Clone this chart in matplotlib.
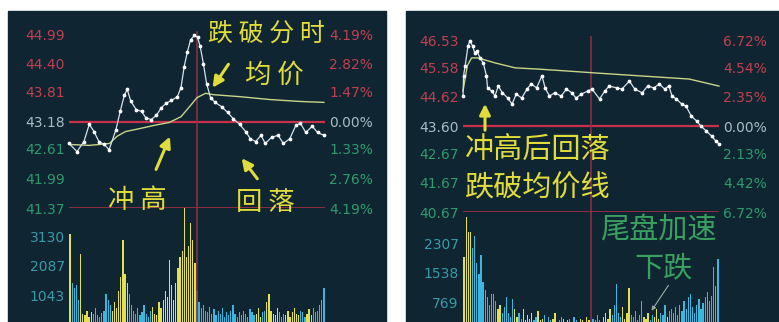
import numpy as np
import matplotlib
matplotlib.use("Agg")
import matplotlib.pyplot as plt
from matplotlib.patches import Rectangle, FancyArrowPatch

plt.rcParams['font.family'] = ['DejaVu Sans']
CJK = ['Noto Sans CJK SC', 'DejaVu Sans']

# ---- left chart: spike then break below the average price ----
l_t = [0, 7.5, 14, 19, 23.5, 28, 33, 37.6, 44, 48, 52, 54.6, 58, 63, 68, 72, 77, 82, 86.6, 91,
       96, 101.6, 105, 108, 111, 114, 117.6, 120.5, 123, 126, 129, 132.7, 137, 143, 148.7, 154,
       160, 165.6, 170, 175, 180, 184, 190, 196, 201, 207, 212.7, 217, 222, 228, 233, 239]
l_price = [42.72, 42.55, 42.76, 43.12, 42.97, 42.76, 42.70, 42.59, 43.01, 43.39, 43.74, 43.85,
           43.60, 43.43, 43.39, 43.26, 43.22, 43.31, 43.47, 43.56, 43.62, 43.70, 43.89, 44.33,
           44.64, 44.89, 44.98, 44.94, 44.75, 44.39, 43.97, 43.68, 43.58, 43.49, 43.37, 43.24,
           43.12, 42.97, 42.82, 42.76, 42.89, 42.72, 42.85, 42.89, 42.72, 42.82, 43.10, 43.14,
           42.95, 43.08, 42.95, 42.89]
l_avg_t = [0, 19, 38, 45, 53, 66, 80, 94, 105, 113, 120, 128, 136, 160, 188, 216, 239]
l_avg = [42.70, 42.68, 42.72, 42.87, 42.97, 43.03, 43.10, 43.16, 43.28, 43.49, 43.68, 43.77,
         43.74, 43.70, 43.64, 43.60, 43.58]
l_levels = [41.37, 41.99, 42.61, 43.18, 43.81, 44.40, 44.99]
l_pct = ["4.19%", "2.76%", "1.33%", "0.00%", "1.47%", "2.82%", "4.19%"]
l_vol_ticks = [1043, 2087, 3130]
l_vol = [3200, 1500, 1300, 1400, 900, 2500, 400, 350, 500, 300,
         450, 380, 600, 350, 300, 420, 500, 1100, 900, 700,
         500, 800, 600, 1200, 1700, 3000, 1800, 1500, 1100, 700,
         500, 400, 600, 350, 450, 700, 400, 300, 500, 650,
         400, 350, 800, 600, 900, 1200, 1000, 2300, 1400, 900,
         1500, 2000, 2400, 2600, 4200, 2400, 2800, 3600, 3000, 2200,
         1200, 800, 600, 700, 500, 450, 650, 400, 550, 350,
         500, 400, 600, 300, 450, 350, 500, 700, 400, 300,
         450, 350, 500, 400, 300, 550, 450, 350, 400, 600,
         300, 450, 500, 800, 1100, 500, 400, 350, 600, 450,
         300, 400, 350, 500, 300, 450, 600, 400, 350, 500,
         450, 300, 400, 550, 350, 600, 450, 500, 700, 900, 1300]

# ---- right chart: high open, fade, then tail-end sell-off ----
r_t = [0, 0.5, 2, 4.7, 6.5, 9, 11, 13, 16, 19, 22, 23, 27, 30, 33, 37, 42, 46, 50, 55, 60, 64,
       69, 74, 77, 81, 86, 92, 97, 102, 106, 111, 117, 121, 128, 133, 137, 144, 149, 156, 161,
       168, 173, 179, 184, 189, 193, 196, 200, 205, 209, 214, 219, 223, 228, 233, 237, 240]
r_price = [44.62, 45.31, 45.65, 46.33, 46.50, 46.33, 46.09, 46.16, 45.92, 45.75, 45.31, 44.90,
           44.79, 44.62, 44.96, 44.73, 44.55, 44.35, 44.69, 44.55, 44.86, 45.03, 44.90, 45.31,
           44.90, 44.62, 44.73, 44.62, 44.86, 44.73, 44.55, 44.69, 44.79, 44.86, 44.52, 44.79,
           44.96, 44.90, 44.86, 45.13, 44.86, 44.73, 44.96, 44.90, 45.03, 44.86, 44.96, 44.62,
           44.52, 44.35, 44.28, 43.94, 43.77, 43.60, 43.43, 43.26, 43.09, 42.99]
r_avg_t = [0, 4, 8, 14, 30, 49, 70, 95, 123, 165, 212, 240]
r_avg = [44.79, 45.65, 45.92, 45.92, 45.75, 45.58, 45.54, 45.48, 45.41, 45.31, 45.20, 44.96]
r_levels = [40.67, 41.67, 42.67, 43.60, 44.62, 45.58, 46.53]
r_pct = ["6.72%", "4.42%", "2.13%", "0.00%", "2.35%", "4.54%", "6.72%"]
r_vol_ticks = [769, 1538, 2307]
r_vol = [1950, 3000, 2600, 2600, 2200, 2500, 1800, 1500, 2000, 1300,
         1100, 900, 700, 1000, 1000, 800, 600, 700, 500, 650,
         900, 500, 400, 850, 600, 400, 500, 350, 600, 300,
         450, 350, 500, 300, 400, 550, 300, 350, 450, 250,
         400, 300, 350, 500, 250, 300, 400, 350, 200, 300,
         350, 250, 400, 300, 200, 350, 300, 250, 400, 300,
         250, 350, 300, 450, 300, 250, 400, 500, 350, 600,
         450, 700, 1250, 500, 400, 650, 350, 500, 1150, 450,
         400, 550, 300, 450, 800, 400, 350, 500, 300, 450,
         400, 600, 350, 500, 450, 700, 400, 550, 600, 500,
         650, 450, 700, 550, 800, 600, 900, 1000, 650, 500,
         700, 850, 600, 750, 900, 1050, 800, 950, 1700, 1200, 1900]

W, H = 779, 322
BG = '#0f2531'
RED = '#c8304c'
UP = '#c04050'
DOWN = '#2f9a6c'
MID = '#a8bcc4'
VOLC = '#3a9aa8'
YEL = '#e0dc3c'
GRN = '#3aa060'


def box(x, y, w, h):
    return [x / W, 1 - (y + h) / H, w / W, h / H]


def fp(x, y):
    return (x / W, 1 - y / H)


fig = plt.figure(figsize=(W / 100, H / 100), dpi=100)
fig.patch.set_facecolor('white')
fig.add_artist(Rectangle(fp(8, 322), 378 / W, 311 / H, transform=fig.transFigure,
                         color=BG, zorder=0))
fig.add_artist(Rectangle(fp(406, 322), 373 / W, 311 / H, transform=fig.transFigure,
                         color=BG, zorder=0))


def panel(x0, ytop, ybot, levels, pct, t, price, avg_t, avg, vol, vol_ticks, vol_zero):
    w = 256
    ax = fig.add_axes(box(x0, ytop, w, ybot - ytop))
    ax.set_facecolor('none')
    ax.set_xlim(0, 240)
    ax.set_ylim(levels[0], levels[-1])
    ax.axhline(levels[3], color=RED, lw=1.6)
    ax.axhline(levels[0], color=RED, lw=1.2, alpha=0.8)
    ax.plot([120, 120], [levels[0], levels[-1] + 0.02 * (levels[-1] - levels[0])],
            color='#8a2e42', lw=1.2, clip_on=False)
    ax.plot(avg_t, avg, color='#c8d488', lw=1.0, clip_on=False)
    ax.plot(t, price, color='#d4e2ee', lw=0.9, marker='o', ms=1.7,
            mfc='white', mec='white', clip_on=False)
    ax.set_yticks(levels)
    ax.set_yticklabels([f"{v:.2f}" for v in levels])
    ax.set_xticks([])
    for i, lab in enumerate(ax.get_yticklabels()):
        lab.set_color(UP if i > 3 else (MID if i == 3 else DOWN))
    ax.tick_params(axis='y', length=0, pad=3, labelsize=10)
    axr = ax.twinx()
    axr.set_ylim(ax.get_ylim())
    axr.set_yticks(levels)
    axr.set_yticklabels(pct)
    for i, lab in enumerate(axr.get_yticklabels()):
        lab.set_color(UP if i > 3 else (MID if i == 3 else DOWN))
    axr.tick_params(axis='y', length=0, pad=3, labelsize=10)
    for a in (ax, axr):
        for s in a.spines.values():
            s.set_visible(False)

    axv = fig.add_axes(box(x0, ybot, w, vol_zero - ybot))
    axv.set_facecolor('none')
    axv.set_xlim(-1, 241)
    scale = vol_ticks[0] / 29.5
    axv.set_ylim(0, scale * (vol_zero - ybot))
    mins = np.arange(len(vol)) * 2
    p = np.interp(mins, t, price)
    prev = np.concatenate([[p[0] - 0.01], p[:-1]])
    cols = ['#e2e050' if a >= b else '#3cb6dc' for a, b in zip(p, prev)]
    axv.bar(mins, vol, width=1.2, color=cols, linewidth=0)
    axv.plot([120, 120], [0, scale * (vol_zero - ybot)], color='#8a2e42', lw=1.2)
    axv.set_yticks(vol_ticks)
    axv.set_yticklabels([str(v) for v in vol_ticks])
    axv.set_xticks([])
    axv.tick_params(axis='y', length=0, pad=3, labelsize=10, labelcolor=VOLC)
    for s in axv.spines.values():
        s.set_visible(False)
    return ax


panel(69, 35, 208, l_levels, l_pct, l_t, l_price, l_avg_t, l_avg, l_vol, l_vol_ticks, 325)
panel(463, 40, 212, r_levels, r_pct, r_t, r_price, r_avg_t, r_avg, r_vol, r_vol_ticks, 332)

# annotations
big = dict(family=CJK, color=YEL, fontsize=19, ha='center', va='center')
fig.text(*fp(266, 35), "跌 破 分 时", **dict(big, fontsize=18))
fig.text(*fp(274, 75), "均 价", **big)
fig.text(*fp(137, 201), "冲 高", **big)
fig.text(*fp(265, 203), "回 落", **big)
fig.text(*fp(538, 150), "冲高后回落", **dict(big, fontsize=21))
fig.text(*fp(538, 188), "跌破均价线", **dict(big, fontsize=21))
fig.text(*fp(658, 230), "尾盘加速", **dict(big, fontsize=21, color=GRN))
fig.text(*fp(664, 268), "下跌", **dict(big, fontsize=21, color=GRN))


def arrow(x1, y1, x2, y2, color=YEL, lw=2.2, ms=16):
    fig.add_artist(FancyArrowPatch(
        fp(x1, y1), fp(x2, y2), transform=fig.transFigure,
        arrowstyle='-|>', color=color, lw=lw, mutation_scale=ms))


arrow(230, 62, 211, 90)
arrow(155, 172, 171, 134)
arrow(259, 181, 240, 156)
arrow(485, 133, 485, 101)
arrow(670, 283, 650, 313, color='#9aa8a8', lw=0.8, ms=6)

fig.savefig("out.png", dpi=100, facecolor='white')
